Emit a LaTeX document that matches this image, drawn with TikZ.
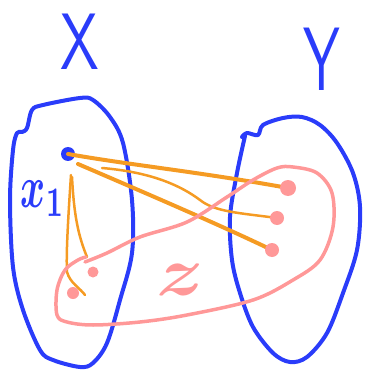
\documentclass[tikz,border=0pt]{standalone}
\usetikzlibrary{calc}
\definecolor{pblue}{RGB}{42,60,250}
\definecolor{porange}{RGB}{245,155,35}
\definecolor{ppink}{RGB}{255,152,152}
\tikzset{
  blob/.style={draw=pblue,line width=4pt,line join=round,line cap=round},
  zblob/.style={draw=ppink,line width=3.5pt,line join=round,line cap=round},
  thickmap/.style={draw=porange,line width=4pt,line cap=round},
  thinmap/.style={draw=porange,line width=2.5pt,line cap=round},
  pdot/.style={fill=ppink,draw=none},
  lbl/.style={inner sep=0pt,anchor=center}
}
\begin{document}
\begin{tikzpicture}[x=1pt,y=-1pt]
\useasboundingbox (0,0) rectangle (364,371);
% labels
\node[lbl,text=pblue,font=\sffamily,xscale=5.8,yscale=8] (X) at (80,42) {X};
\node[lbl,text=pblue,font=\sffamily,xscale=5.5,yscale=9] (Y) at (322,59) {Y};
% blue blobs
\draw[blob] plot[smooth cycle,tension=0.55] coordinates {
 (22,132) (27,128) (32,110) (43,105) (80,98) (93,100) (110,117) (123,143)
 (132,200) (132,253) (120,300) (107,343) (93,363) (80,367) (53,360) (40,350)
 (23,310) (13,267) (10,200) (13,150) (17,133)};
\draw[blob] plot[smooth,tension=0.55] coordinates {
 (242,137) (247,133) (258,135) (263,125) (283,118) (302,117) (320,125) (337,143)
 (353,173) (360,207) (357,250) (343,293) (327,333) (307,357) (290,362) (273,353)
 (253,327) (240,293) (232,260) (230,217) (237,173) (245,136)};
% points
\coordinate (x1) at (68,154);
\coordinate (a) at (288,188);
\coordinate (b) at (277,218);
\coordinate (c) at (272,250);
\coordinate (d) at (93,272);
\coordinate (e) at (73,293);
\fill[pblue] (x1) circle (7pt);
\node[lbl,text=pblue,font=\boldmath,xscale=3.8,yscale=6] (x1lbl) at (43,199) {$x_1$};
% orange maps
\draw[thickmap] (x1) .. controls (130,165) and (200,172) .. (a);
\draw[thickmap] ($(x1)+(10,10)$) .. controls (150,195) and (220,225) .. (c);
\draw[thinmap] ($(x1)+(34,14)$) .. controls (150,172) and (180,185) .. (200,200) .. controls (215,212) and (240,213) .. (b);
\draw[thinmap] ($(x1)+(3,21)$) .. controls (68,220) and (66,255) .. (67,272) .. controls (70,283) and (80,288) .. ($(e)+(12,2)$);
\draw[thinmap] ($(x1)+(4,23)$) .. controls (74,215) and (78,235) .. ($(d)+(-6,-15)$);
% pink z blob
\draw[zblob] plot[smooth,tension=0.55] coordinates {
 (85,262) (107,253) (140,237) (187,222) (227,197) (253,180) (277,168) (293,167)
 (317,173) (332,193) (333,227) (320,260) (293,280) (253,300) (187,315) (140,322)
 (93,325) (67,322) (57,315) (57,290) (65,270) (78,260) (86,257)};
\fill[pdot] (a) circle (8pt);
\fill[pdot] (b) circle (7pt);
\fill[pdot] (c) circle (7pt);
\fill[pdot] (d) circle (5.5pt);
\fill[pdot] (e) circle (6pt);
\node[lbl,text=ppink,font=\boldmath,xscale=8,yscale=7] (zlbl) at (180,280) {$z$};
\end{tikzpicture}
\end{document}
